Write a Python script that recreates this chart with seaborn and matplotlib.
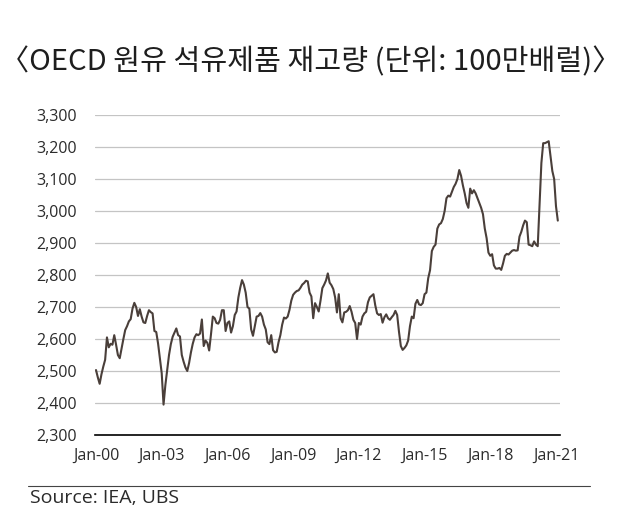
import matplotlib
matplotlib.use("Agg")
import matplotlib.pyplot as plt
from matplotlib.lines import Line2D
import seaborn as sns
import numpy as np
import pandas as pd

# OECD 원유·석유제품 재고량 (100만배럴), 월별 (2000.01 ~ 2021.02)
stocks_2000_2002 = [2503, 2480, 2460, 2490, 2514, 2535, 2605, 2574, 2585, 2582, 2612, 2582,
                    2550, 2540, 2570, 2600, 2628, 2640, 2655, 2662, 2695, 2713, 2700, 2672,
                    2693, 2670, 2652, 2650, 2672, 2690, 2684, 2680, 2625, 2622, 2586, 2540]
stocks_2003_2005 = [2493, 2395, 2456, 2503, 2550, 2584, 2607, 2620, 2633, 2612, 2608, 2550,
                    2529, 2511, 2500, 2525, 2558, 2585, 2605, 2615, 2612, 2617, 2661, 2578,
                    2595, 2588, 2564, 2615, 2670, 2665, 2650, 2648, 2660, 2690, 2690, 2625]
stocks_2006_2008 = [2650, 2655, 2620, 2640, 2675, 2686, 2730, 2760, 2784, 2770, 2745, 2700,
                    2695, 2630, 2610, 2640, 2670, 2672, 2681, 2670, 2645, 2630, 2590, 2584,
                    2612, 2565, 2558, 2560, 2590, 2612, 2645, 2667, 2664, 2670, 2691, 2720]
stocks_2009_2011 = [2738, 2745, 2750, 2752, 2760, 2770, 2775, 2782, 2780, 2745, 2733, 2665,
                    2712, 2700, 2686, 2720, 2759, 2770, 2783, 2805, 2776, 2768, 2756, 2730,
                    2683, 2740, 2665, 2652, 2683, 2685, 2690, 2703, 2685, 2660, 2650, 2600]
stocks_2012_2014 = [2650, 2645, 2670, 2680, 2685, 2715, 2730, 2735, 2740, 2705, 2680, 2675,
                    2678, 2651, 2668, 2677, 2665, 2660, 2668, 2675, 2688, 2675, 2622, 2578,
                    2566, 2572, 2580, 2595, 2640, 2670, 2665, 2710, 2722, 2708, 2706, 2712]
stocks_2015_2017 = [2740, 2745, 2790, 2815, 2875, 2888, 2895, 2945, 2958, 2962, 2975, 3000,
                    3040, 3048, 3045, 3060, 3075, 3085, 3100, 3128, 3110, 3080, 3055, 3025,
                    3010, 3070, 3055, 3065, 3055, 3040, 3025, 3010, 2990, 2945, 2915, 2870]
stocks_2018_2020 = [2860, 2865, 2830, 2820, 2820, 2822, 2816, 2836, 2860, 2866, 2864, 2870,
                    2876, 2878, 2876, 2877, 2920, 2935, 2955, 2970, 2965, 2895, 2893, 2890,
                    2905, 2895, 2890, 3020, 3150, 3212, 3212, 3215, 3218, 3172, 3125, 3100]
stocks_2021 = [3015, 2970]

tick_years = [2000, 2003, 2006, 2009, 2012, 2015, 2018, 2021]
y_ticks = [2300, 2400, 2500, 2600, 2700, 2800, 2900, 3000, 3100, 3200, 3300]

stocks = (stocks_2000_2002 + stocks_2003_2005 + stocks_2006_2008 + stocks_2009_2011
          + stocks_2012_2014 + stocks_2015_2017 + stocks_2018_2020 + stocks_2021)
dates = pd.date_range("2000-01-01", periods=len(stocks), freq="MS")
df = pd.DataFrame({"date": dates, "month": np.arange(len(stocks)), "stocks": stocks})

sns.set_style("white")
plt.rcParams['font.family'] = ['Open Sans', 'DejaVu Sans']

LINE = '#4a3f3a'
TEXT = '#2b2b2b'
W, H = 630, 521

fig = plt.figure(figsize=(W / 100, H / 100), dpi=100)
ax = fig.add_axes([95 / W, 1 - 435 / H, 465 / W, 320 / H])

sns.lineplot(data=df, x="month", y="stocks", ax=ax, color=LINE, linewidth=1.5)

ax.set_xlim(-0.55, 254.2)
ax.set_ylim(2300, 3300)
ax.set_yticks(y_ticks)
ax.set_yticklabels([f"{v:,}" for v in y_ticks], fontsize=11.5, color=TEXT)

tick_pos = [df.index[(df.date.dt.year == y) & (df.date.dt.month == 1)][0] for y in tick_years]
ax.set_xticks(tick_pos)
ax.set_xticklabels([f"Jan-{str(y)[2:]}" for y in tick_years], fontsize=11.5, color=TEXT)

ax.set_xlabel("")
ax.set_ylabel("")
ax.yaxis.grid(True, color='#c4c4c4', linewidth=0.9)
ax.xaxis.grid(False)
for side in ['top', 'right', 'left']:
    ax.spines[side].set_visible(False)
ax.spines['bottom'].set_color('black')
ax.spines['bottom'].set_linewidth(1.2)
ax.tick_params(axis='y', length=0, pad=13)
ax.tick_params(axis='x', length=0, pad=9)

fig.text(0.0, 1 - 62 / H, "〈OECD 원유 석유제품 재고량 (단위: 100만배럴)〉",
         family=['Noto Sans CJK KR', 'DejaVu Sans'], fontsize=21, color='#1e1e1e',
         ha='left', va='center')

fig.add_artist(Line2D([28 / W, 590 / W], [1 - 486 / H] * 2, color='#444444', linewidth=0.8))
fig.text(30 / W, 1 - 498 / H, "Source: IEA, UBS", fontsize=14, color=TEXT,
         ha='left', va='center')

fig.savefig("out.png", dpi=100)
